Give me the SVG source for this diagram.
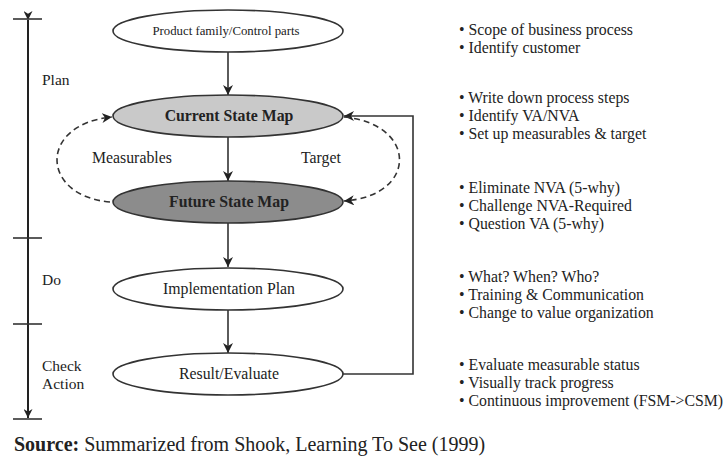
<svg xmlns="http://www.w3.org/2000/svg" width="725" height="457" viewBox="0 0 725 457">
<defs>
<style>
.t{font-family:"Liberation Serif","Times New Roman",serif;fill:#222;}
.n{stroke:#333;stroke-width:1.6;}
.c{stroke:#333;stroke-width:1.6;fill:none;}
.a{stroke:#222;stroke-width:2;fill:none;}
.d{stroke:#333;stroke-width:1.6;fill:none;stroke-dasharray:6 4;}
.b{font-size:15.8px;}
</style>
<marker id="ah" viewBox="0 0 10 10" refX="10" refY="5" markerWidth="9" markerHeight="9" markerUnits="userSpaceOnUse" orient="auto"><path d="M0,0 L10,5 L0,10 L3,5 z" fill="#222"/></marker>
<marker id="ah2" viewBox="0 0 10 10" refX="10" refY="5" markerWidth="10" markerHeight="10" markerUnits="userSpaceOnUse" orient="auto"><path d="M0,0 L10,5 L0,10 L3,5 z" fill="#222"/></marker>
</defs>
<rect width="725" height="457" fill="#fff"/>
<g id="axis">
<line class="a" x1="28" y1="20" x2="28" y2="418" marker-start="url(#ah)" marker-end="url(#ah)"/>
<line class="c" x1="13" y1="19" x2="42" y2="19"/>
<line class="c" x1="13" y1="238" x2="42" y2="238"/>
<line class="c" x1="13" y1="324" x2="42" y2="324"/>
<line class="c" x1="13" y1="419" x2="42" y2="419"/>
<text class="t" x="42" y="85" font-size="15.5">Plan</text>
<text class="t" x="42" y="285" font-size="15.5">Do</text>
<text class="t" x="42" y="371" font-size="15.5">Check</text>
<text class="t" x="42" y="389" font-size="15.5">Action</text>
</g>
<g id="connectors">
<line class="c" x1="228" y1="52" x2="228" y2="95" marker-end="url(#ah2)"/>
<line class="c" x1="228" y1="137" x2="228" y2="181" marker-end="url(#ah2)"/>
<line class="c" x1="228" y1="223" x2="228" y2="267" marker-end="url(#ah2)"/>
<line class="c" x1="228" y1="310" x2="228" y2="353" marker-end="url(#ah2)"/>
<polyline class="c" points="343,374 413,374 413,116 344,116" marker-end="url(#ah2)"/>
<path class="d" d="M110,202 C40,196 38,124 112,117" marker-end="url(#ah2)"/>
<path class="d" d="M344,117 C418,124 418,196 344,201" marker-end="url(#ah2)"/>
<text class="t" x="92" y="163" font-size="15.8">Measurables</text>
<text class="t" x="301" y="163" font-size="15.8">Target</text>
</g>
<g id="product">
<ellipse class="n" cx="228" cy="31" rx="115" ry="21" fill="#fff"/>
<text class="t" x="226" y="34.5" font-size="12.8" text-anchor="middle">Product family/Control parts</text>
</g>
<g id="current">
<ellipse class="n" cx="228" cy="116" rx="115" ry="21" fill="#c9c9c9"/>
<text class="t" x="229" y="121" font-size="15.8" font-weight="bold" text-anchor="middle">Current State Map</text>
</g>
<g id="future">
<ellipse class="n" cx="228" cy="202" rx="115" ry="21" fill="#8c8c8c"/>
<text class="t" x="229" y="207" font-size="15.8" font-weight="bold" text-anchor="middle">Future State Map</text>
</g>
<g id="implementation">
<ellipse class="n" cx="228" cy="289" rx="115" ry="21" fill="#fff"/>
<text class="t" x="229" y="294" font-size="15.8" text-anchor="middle">Implementation Plan</text>
</g>
<g id="result">
<ellipse class="n" cx="228" cy="374" rx="115" ry="21" fill="#fff"/>
<text class="t" x="229" y="379" font-size="15.8" text-anchor="middle">Result/Evaluate</text>
</g>
<g id="notes" class="t b">
<text x="459" y="35">• Scope of business process</text>
<text x="459" y="53">• Identify customer</text>
<text x="459" y="103">• Write down process steps</text>
<text x="459" y="121">• Identify VA/NVA</text>
<text x="459" y="139">• Set up measurables &amp; target</text>
<text x="459" y="193">• Eliminate NVA (5-why)</text>
<text x="459" y="211">• Challenge NVA-Required</text>
<text x="459" y="229">• Question VA (5-why)</text>
<text x="459" y="282">• What? When? Who?</text>
<text x="459" y="300">• Training &amp; Communication</text>
<text x="459" y="318">• Change to value organization</text>
<text x="459" y="370">• Evaluate measurable status</text>
<text x="459" y="388">• Visually track progress</text>
<text x="459" y="406">• Continuous improvement (FSM-&gt;CSM)</text>
</g>
<text class="t" x="14" y="451" font-size="20"><tspan font-weight="bold">Source:</tspan> Summarized from Shook, Learning To See (1999)</text>
</svg>
